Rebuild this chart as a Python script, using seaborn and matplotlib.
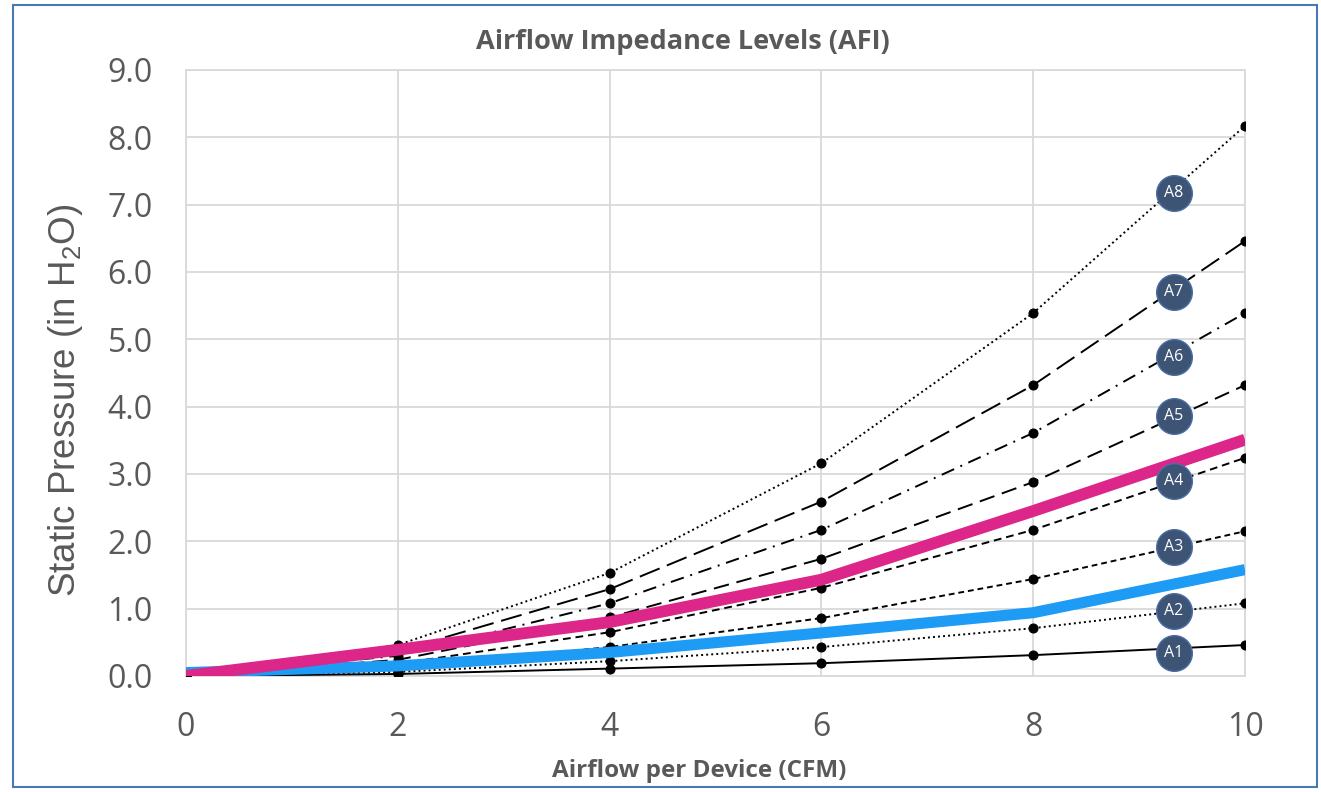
import matplotlib
matplotlib.use("Agg")
import matplotlib.pyplot as plt
import seaborn as sns
import pandas as pd
from matplotlib.patches import Rectangle

# ---- data ----
airflow = [0, 2, 4, 6, 8, 10]
A1 = [0, 0.03, 0.11, 0.19, 0.31, 0.46]
A2 = [0, 0.06, 0.22, 0.43, 0.71, 1.08]
A3 = [0, 0.12, 0.43, 0.86, 1.44, 2.15]
A4 = [0, 0.18, 0.65, 1.31, 2.17, 3.24]
A5 = [0, 0.24, 0.87, 1.74, 2.88, 4.32]
A6 = [0, 0.30, 1.08, 2.17, 3.61, 5.39]
A7 = [0, 0.37, 1.29, 2.59, 4.32, 6.46]
A8 = [0, 0.46, 1.53, 3.16, 5.39, 8.17]
blue_curve = [0.05, 0.15, 0.35, 0.64, 0.94, 1.58]
pink_curve = [0, 0.39, 0.80, 1.43, 2.45, 3.51]
level_names = ["A1", "A2", "A3", "A4", "A5", "A6", "A7", "A8"]
badge_x = 9.33
badge_y = [0.34, 0.97, 1.92, 2.90, 3.86, 4.74, 5.71, 7.18]
x_ticks = [0, 2, 4, 6, 8, 10]
y_ticks = [0, 1, 2, 3, 4, 5, 6, 7, 8, 9]

title = "Airflow Impedance Levels (AFI)"
xlabel = "Airflow per Device (CFM)"
ylabel = r"Static Pressure (in H$_\mathregular{2}$O)"

sns.set_theme(style="white")
plt.rcParams["font.family"] = ["Open Sans", "DejaVu Sans"]
plt.rcParams["mathtext.fontset"] = "custom"
plt.rcParams["mathtext.rm"] = "Liberation Sans"

W, H = 1321, 792
fig = plt.figure(figsize=(W/100, H/100), dpi=100)
ax = fig.add_axes([186/W, 1-676/H, (1245-186)/W, (676-70)/H])

levels = [A1, A2, A3, A4, A5, A6, A7, A8]
styles = [
    "-",
    (0, (1, 1.6)),
    (0, (3, 2)),
    (0, (4, 2.5)),
    (0, (8, 4)),
    (0, (7, 3.5, 1, 3.5)),
    (0, (11, 4)),
    (0, (1, 1.6)),
]
for name, vals, ls in zip(level_names, levels, styles):
    df = pd.DataFrame({"x": airflow, "y": vals})
    sns.lineplot(data=df, x="x", y="y", ax=ax, color="black", lw=1.4,
                 linestyle=ls, marker="o", markersize=6.5,
                 markeredgecolor="black", zorder=3)

dfb = pd.DataFrame({"x": airflow, "y": blue_curve})
sns.lineplot(data=dfb, x="x", y="y", ax=ax, color="#1E9BF5", lw=8,
             solid_capstyle="butt", zorder=4)
dfp = pd.DataFrame({"x": airflow, "y": pink_curve})
sns.lineplot(data=dfp, x="x", y="y", ax=ax, color="#DC2689", lw=8.5,
             solid_capstyle="butt", zorder=5)

ax.scatter([badge_x]*len(badge_y), badge_y, s=660, color="#3D5475",
           edgecolor="#4A6FA5", linewidth=1.0, zorder=6)
for name, yv in zip(level_names, badge_y):
    ax.text(badge_x, yv, name, color="white", fontsize=11.5, ha="center",
            va="center", zorder=7)

ax.set_xlim(0, 10)
ax.set_ylim(0, 9)
ax.set_xticks(x_ticks)
ax.set_yticks(y_ticks)
ax.set_xticklabels([str(t) for t in x_ticks])
ax.set_yticklabels([f"{t:.1f}" for t in y_ticks])
ax.tick_params(axis="both", length=0, labelsize=23, labelcolor="#595959")
ax.tick_params(axis="y", pad=24)
ax.tick_params(axis="x", pad=25)
ax.grid(True, color="#D9D9D9", lw=1.3)
for s in ax.spines.values():
    s.set_color("#D9D9D9")
    s.set_linewidth(1.3)
ax.set_xlabel("")
ax.set_ylabel("")

fig.text(699/W, 1-771/H, xlabel, fontsize=17.5, fontweight="bold",
         color="#595959", ha="center", va="center")
fig.text(66/W, 1-400/H, ylabel, fontsize=26.5, color="#595959",
         family="Liberation Sans", rotation=90, ha="center", va="center")
fig.text(683/W, 1-42/H, title, fontsize=19.5, fontweight="bold",
         color="#595959", ha="center", va="center")

fig.patches.append(Rectangle((13/W, 1-787/H), (1317-13)/W, (787-5)/H,
                             transform=fig.transFigure, fill=False,
                             edgecolor="#4A78B5", lw=1.5))

fig.savefig("out.png", dpi=100)
